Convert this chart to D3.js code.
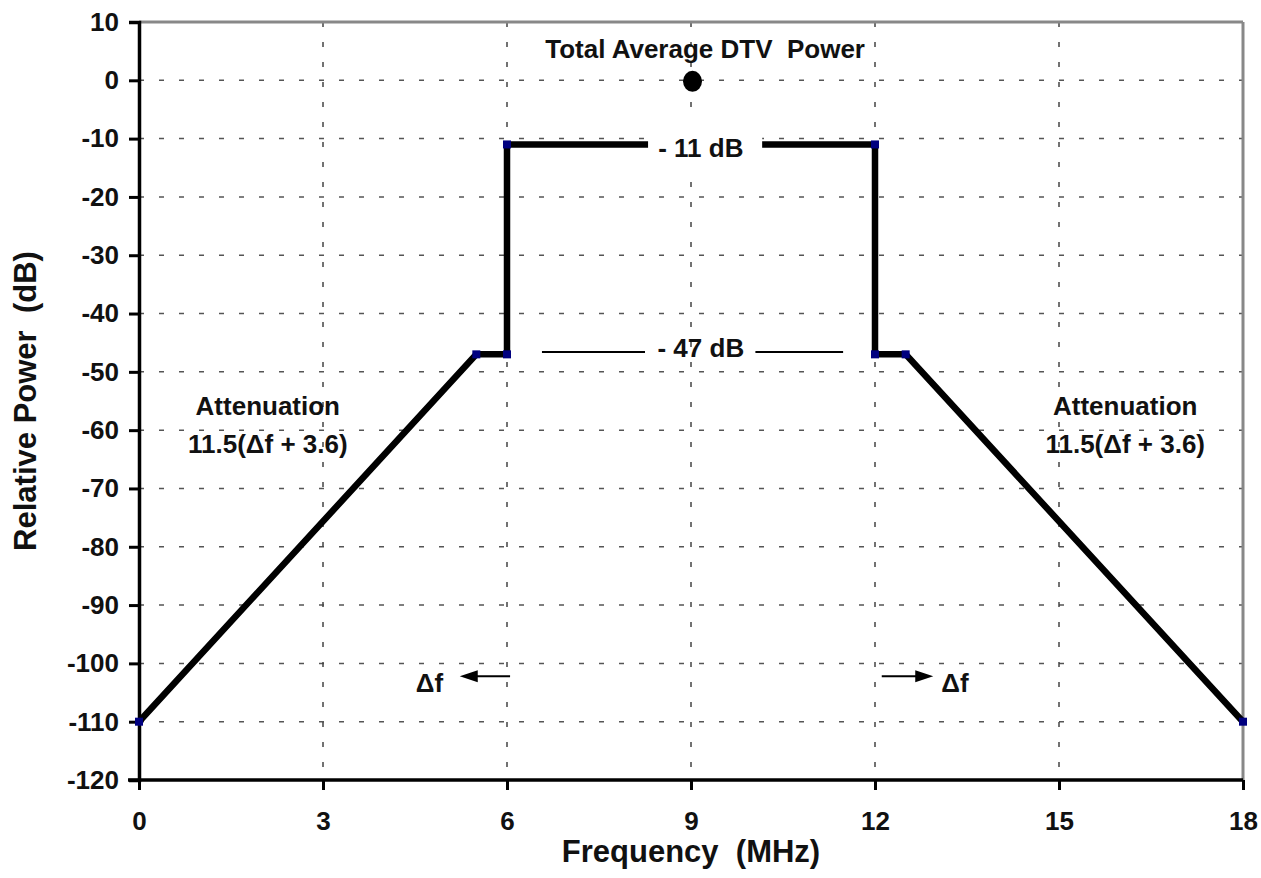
<!DOCTYPE html>
<html><head><meta charset="utf-8">
<script src="https://cdn.jsdelivr.net/npm/d3@7"></script>
<style>
body{margin:0;background:#fff;}
text{font-family:"Liberation Sans",Arial,sans-serif;font-weight:bold;fill:#111;white-space:pre;}
</style></head>
<body><svg id="c" width="1261" height="878"></svg>
<script>
// ---- data ----
const freqs = [0, 5.5, 6, 6, 12, 12, 12.5, 18];          // MHz
const power = [-110, -47, -47, -11, -11, -47, -47, -110]; // dB
const xTicks = [0, 3, 6, 9, 12, 15, 18];
const yTicks = [10, 0, -10, -20, -30, -40, -50, -60, -70, -80, -90, -100, -110, -120];
const totalPower = {f: 9, db: 0};

const W = 1261, H = 878;
const m = {l:139, t:22, r:18, b:98};
const svg = d3.select("#c");
const x = d3.scaleLinear().domain([0,18]).range([m.l, W-m.r]);
const y = d3.scaleLinear().domain([-120,10]).range([H-m.b, m.t]);

// grid
const g = svg.append("g");
g.selectAll(".hg").data(yTicks.filter(v=>v<10 && v>-120)).join("line")
  .attr("x1",x(0)).attr("x2",x(18)).attr("y1",d=>y(d)).attr("y2",d=>y(d))
  .attr("stroke","#555").attr("stroke-width",1.5).attr("stroke-dasharray","5,15");
g.selectAll(".vg").data(xTicks.filter(v=>v>0 && v<18)).join("line")
  .attr("y1",y(10)).attr("y2",y(-120)).attr("x1",d=>x(d)).attr("x2",d=>x(d))
  .attr("stroke","#444").attr("stroke-width",1.5).attr("stroke-dasharray","5,15");

// frame top/right (gray)
svg.append("line").attr("x1",x(0)).attr("x2",x(18)).attr("y1",y(10)).attr("y2",y(10))
  .attr("stroke","#888").attr("stroke-width",3);
svg.append("line").attr("x1",x(18)).attr("x2",x(18)).attr("y1",y(10)).attr("y2",y(-120))
  .attr("stroke","#888").attr("stroke-width",3);

// axes
const fmt = d => String(d);
const yAxis = d3.axisLeft(y).tickValues(yTicks).tickSize(10).tickPadding(10).tickFormat(fmt);
const xAxis = d3.axisBottom(x).tickValues(xTicks).tickSize(10).tickPadding(22).tickFormat(fmt);
const ya = svg.append("g").attr("transform",`translate(${x(0)},0)`).call(yAxis);
const xa = svg.append("g").attr("transform",`translate(0,${y(-120)})`).call(xAxis);
[ya,xa].forEach(a=>{
  a.select(".domain").attr("stroke","#000").attr("stroke-width",3.5);
  a.selectAll(".tick line").attr("stroke","#000").attr("stroke-width",3);
  a.selectAll(".tick text").style("font-size","26px").attr("fill","#111")
   .style("font-family",'"Liberation Sans",Arial,sans-serif').style("font-weight","bold");
});
xa.select(".domain").attr("d",`M${x(0)-11},0H${x(18)}`);

// axis titles
svg.append("text").attr("x",(x(0)+x(18))/2).attr("y",862).attr("text-anchor","middle")
  .style("font-size","31px").text("Frequency  (MHz)");
svg.append("text").attr("transform",`translate(36,${(y(10)+y(-120))/2}) rotate(-90)`)
  .attr("text-anchor","middle").style("font-size","31px").text("Relative Power  (dB)");

// mask line
const pts = freqs.map((f,i)=>[f,power[i]]);
svg.append("path").datum(pts)
  .attr("d",d3.line().x(d=>x(d[0])).y(d=>y(d[1])))
  .attr("fill","none").attr("stroke","#000").attr("stroke-width",6.5).attr("stroke-linejoin","miter");
svg.selectAll(".mk").data(pts).join("rect")
  .attr("x",d=>x(d[0])-4).attr("y",d=>y(d[1])-4).attr("width",8).attr("height",8)
  .attr("fill","#00007f");

// total power dot
svg.append("ellipse").attr("cx",x(totalPower.f)+1.5).attr("cy",y(totalPower.db)+1).attr("rx",9.5).attr("ry",10.5).attr("fill","#000");
svg.append("text").attr("x",x(9.23)).attr("y",y(3.83)).attr("text-anchor","middle")
  .style("font-size","26px").text("Total Average DTV  Power");

// -11 dB label with white gap
svg.append("rect").attr("x",x(8.3)).attr("width",x(10.16)-x(8.3)).attr("y",y(-7)).attr("height",y(-15)-y(-7)).attr("fill","#fff");
svg.append("text").attr("x",x(9.16)).attr("y",y(-13.2)).attr("text-anchor","middle")
  .style("font-size","26px").text("- 11 dB");

// -47 dB label with thin lines
[[6.57,8.25],[10.05,11.48]].forEach(s=>{
  svg.append("line").attr("x1",x(s[0])).attr("x2",x(s[1])).attr("y1",y(-46.6)).attr("y2",y(-46.6))
    .attr("stroke","#000").attr("stroke-width",2);
});
svg.append("text").attr("x",x(9.16)).attr("y",y(-47.4)).attr("text-anchor","middle")
  .style("font-size","26px").text("- 47 dB");

// attenuation labels
[2.1,16.08].forEach(f=>{
  svg.append("text").attr("x",x(f)).attr("y",y(-57.4)).attr("text-anchor","middle").style("font-size","26px").text("Attenuation");
  svg.append("text").attr("x",x(f)).attr("y",y(-63.9)).attr("text-anchor","middle").style("font-size","26px").text("11.5(\u0394f + 3.6)");
});

// delta f arrows
function arrow(f0,f1,db){
  const x0=x(f0),x1=x(f1),yy=y(db),dir=Math.sign(x1-x0);
  svg.append("line").attr("x1",x0).attr("x2",x1-dir*16).attr("y1",yy).attr("y2",yy).attr("stroke","#000").attr("stroke-width",2);
  svg.append("path").attr("d",`M${x1},${yy}L${x1-dir*18},${yy-6}L${x1-dir*18},${yy+6}Z`).attr("fill","#000");
}
arrow(6.05,5.23,-102.2);
arrow(12.11,12.95,-102.2);
svg.append("text").attr("x",x(4.96)).attr("y",y(-104.9)).attr("text-anchor","end").style("font-size","26px").text("\u0394f");
svg.append("text").attr("x",x(13.08)).attr("y",y(-104.9)).attr("text-anchor","start").style("font-size","26px").text("\u0394f");
</script></body></html>
